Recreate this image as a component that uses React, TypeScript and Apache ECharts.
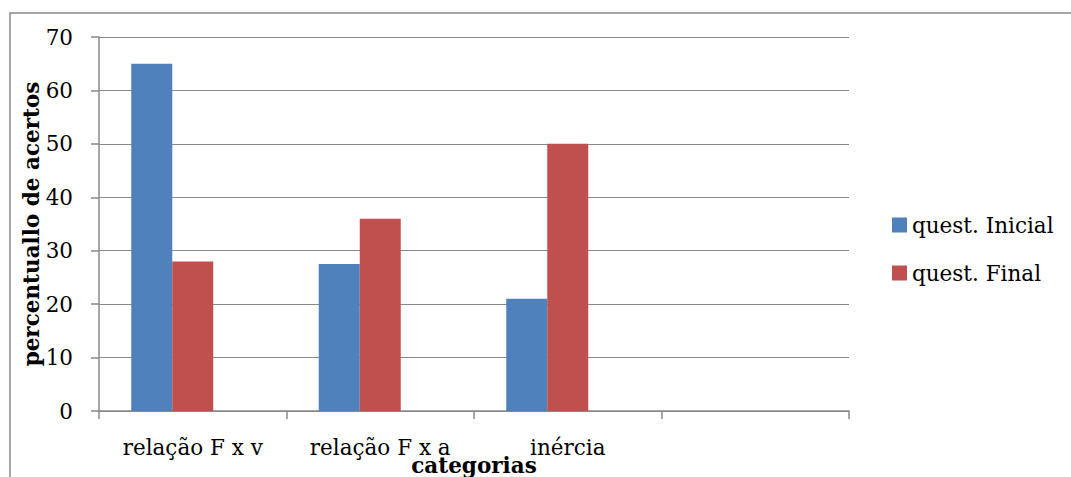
import React, { useEffect, useRef } from "react";
import * as echarts from "echarts";

const categories = ["relação F x v", "relação F x a", "inércia", ""];
const questInicial = [65, 27.5, 21, null];
const questFinal = [28, 36, 50, null];
const phantom = [null, null, null, null];
const yTicks = { min: 0, max: 70, interval: 10 };

const FONT = "DejaVu Serif";
const FS = 21.5;

export default function App() {
  const ref = useRef<HTMLDivElement>(null);
  useEffect(() => {
    const chart = echarts.init(ref.current!, null, { renderer: "svg" });
    chart.setOption({
      animation: false,
      backgroundColor: "#fff",
      textStyle: { fontFamily: FONT },
      graphic: [
        {
          type: "rect",
          shape: { x: 10, y: 13, width: 1200, height: 600 },
          style: { fill: "none", stroke: "#888", lineWidth: 1.5 },
          silent: true,
        },
      ],
      grid: { left: 99, top: 37, width: 750, height: 374, containLabel: false, outerBoundsMode: "none" },
      legend: {
        orient: "vertical",
        left: 892,
        top: 214,
        padding: 0,
        itemWidth: 15,
        itemHeight: 15,
        itemGap: 26,
        icon: "rect",
        data: ["quest. Inicial", "quest. Final"],
        textStyle: { fontFamily: FONT, fontSize: FS, color: "#000", lineHeight: 22 },
      },
      xAxis: {
        type: "category",
        data: categories,
        boundaryGap: true,
        name: "categorias",
        nameLocation: "middle",
        nameGap: 43,
        nameMoveOverlap: false,
        nameTextStyle: { fontFamily: FONT, fontSize: FS, fontWeight: "bold", color: "#000" },
        axisLine: { lineStyle: { color: "#888", width: 1.5 } },
        axisTick: { show: true, length: 8, lineStyle: { color: "#888", width: 1.5 } },
        axisLabel: { fontFamily: FONT, fontSize: FS, color: "#000", margin: 25, interval: 0 },
      },
      yAxis: {
        type: "value",
        min: yTicks.min,
        max: yTicks.max,
        interval: yTicks.interval,
        name: "percentuallo de acertos",
        nameLocation: "middle",
        nameGap: 57,
        nameMoveOverlap: false,
        nameTextStyle: { fontFamily: FONT, fontSize: FS, fontWeight: "bold", color: "#000" },
        axisLine: { show: true, lineStyle: { color: "#888", width: 1.5 } },
        axisTick: { show: true, length: 8, lineStyle: { color: "#888", width: 1.5 } },
        axisLabel: { fontFamily: FONT, fontSize: FS, color: "#000", margin: 26 },
        splitLine: { show: true, lineStyle: { color: "#888", width: 1.2 } },
      },
      series: [
        { name: "quest. Inicial", type: "bar", data: questInicial, barWidth: 41, barGap: "0%", itemStyle: { color: "#4F81BD" } },
        { name: "quest. Final", type: "bar", data: questFinal, barWidth: 41, barGap: "0%", itemStyle: { color: "#C0504D" } },
        { name: "_empty", type: "bar", data: phantom, barWidth: 41, barGap: "0%", itemStyle: { color: "transparent" } },
      ],
    });
    return () => chart.dispose();
  }, []);
  return (
    <div
      ref={ref}
      style={{ position: "fixed", left: 0, top: 0, width: 1071, height: 477 }}
    />
  );
}
